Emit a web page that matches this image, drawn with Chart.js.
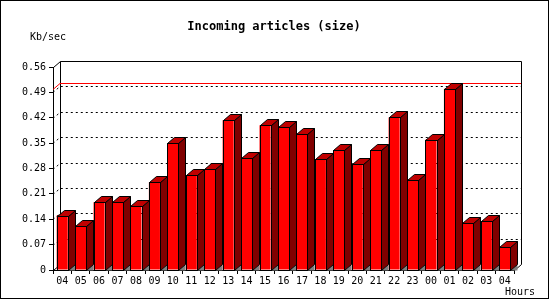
<!DOCTYPE html>
<html lang="en">
<head>
    <meta charset="UTF-8">
    <title>Incoming articles (size)</title>
    <script src="https://cdn.jsdelivr.net/npm/chart.js"></script>
    <style>
        body { margin: 0; background: #fff; }
        #chart { display: block; }
    </style>
</head>
<body>
    <canvas id="chart" width="550" height="300"></canvas>

    <script>
        // Hours along the x axis (last 24h, starting and ending at 04)
        const hours = ['04', '05', '06', '07', '08', '09', '10', '11', '12', '13', '14', '15', '16',
                       '17', '18', '19', '20', '21', '22', '23', '00', '01', '02', '03', '04'];
        // Incoming size per hour, Kb/sec
        const kbPerSec = [0.150, 0.121, 0.187, 0.187, 0.176, 0.242, 0.349, 0.261, 0.278, 0.413, 0.308, 0.399, 0.395,
                          0.374, 0.305, 0.330, 0.292, 0.330, 0.421, 0.247, 0.360, 0.500, 0.129, 0.134, 0.064];
        const yTicks = [0, 0.07, 0.14, 0.21, 0.28, 0.35, 0.42, 0.49, 0.56];

        // depth of the fake 3d box
        const dx = 7, dy = 6;
        const FONT = "'DejaVu Sans Mono', monospace";

        const box3d = {
            id: 'box3d',
            beforeDatasetsDraw(chart) {
                const { ctx, chartArea: a, scales: { y } } = chart;
                const L = a.left, R = a.right, T = a.top, B = a.bottom;
                ctx.save();
                ctx.lineWidth = 1;

                // dotted lines on the back wall
                ctx.strokeStyle = '#000';
                ctx.setLineDash([2, 3]);
                yTicks.slice(1, -1).forEach(v => {
                    const py = Math.round(y.getPixelForValue(v)) + 0.5;
                    ctx.beginPath();
                    ctx.moveTo(L, py);
                    ctx.lineTo(L + dx, py - dy);
                    ctx.lineTo(R + dx, py - dy);
                    ctx.stroke();
                });
                ctx.setLineDash([]);

                // back wall frame
                ctx.beginPath();
                ctx.moveTo(L + 0.5, T + 0.5);
                ctx.lineTo(L + dx + 0.5, T - dy + 0.5);
                ctx.lineTo(R + dx + 0.5, T - dy + 0.5);
                ctx.lineTo(R + dx + 0.5, B - dy + 0.5);
                ctx.lineTo(R + 0.5, B + 0.5);
                ctx.moveTo(L + dx + 0.5, T - dy + 0.5);
                ctx.lineTo(L + dx + 0.5, B - dy + 0.5);
                ctx.lineTo(L + 0.5, B + 0.5);
                ctx.stroke();

                // red line at the maximum
                const my = Math.round(y.getPixelForValue(Math.max(...kbPerSec))) + 0.5;
                ctx.strokeStyle = '#ff0000';
                ctx.beginPath();
                ctx.moveTo(L, my);
                ctx.lineTo(L + dx, my - dy);
                ctx.lineTo(R + dx, my - dy);
                ctx.stroke();
                ctx.restore();
            },
            afterDatasetsDraw(chart) {
                const { ctx, chartArea: a } = chart;
                const B = a.bottom;
                ctx.save();
                ctx.lineWidth = 1;
                ctx.strokeStyle = '#000';
                chart.getDatasetMeta(0).data.forEach(bar => {
                    const { x, y, width } = bar.getProps(['x', 'y', 'width'], true);
                    const l = Math.round(x - width / 2) + 0.5;
                    const r = Math.round(x + width / 2) + 0.5;
                    const t = Math.round(y) + 0.5;
                    const b = B + 0.5;

                    // floor shadow
                    ctx.fillStyle = '#808080';
                    ctx.beginPath();
                    ctx.moveTo(r, b);
                    ctx.lineTo(r + dx, b - dy);
                    ctx.lineTo(r + dx, b);
                    ctx.closePath();
                    ctx.fill();

                    // side
                    ctx.fillStyle = '#800000';
                    ctx.beginPath();
                    ctx.moveTo(r, t);
                    ctx.lineTo(r + dx, t - dy);
                    ctx.lineTo(r + dx, b - dy);
                    ctx.lineTo(r, b);
                    ctx.closePath();
                    ctx.fill();
                    ctx.stroke();

                    // top
                    ctx.fillStyle = '#c00000';
                    ctx.beginPath();
                    ctx.moveTo(l, t);
                    ctx.lineTo(l + dx, t - dy);
                    ctx.lineTo(r + dx, t - dy);
                    ctx.lineTo(r, t);
                    ctx.closePath();
                    ctx.fill();
                    ctx.stroke();

                    // front outline
                    ctx.strokeRect(l, t, r - l, b - t);
                });
                ctx.restore();
            },
            afterDraw(chart) {
                const { ctx } = chart;
                ctx.save();
                ctx.fillStyle = '#000';
                ctx.textBaseline = 'middle';
                ctx.font = 'bold 12px ' + FONT;
                ctx.textAlign = 'center';
                ctx.fillText('Incoming articles (size)', 274, 27);
                ctx.font = '10px ' + FONT;
                ctx.textAlign = 'left';
                ctx.fillText('Kb/sec', 30, 37);
                ctx.fillText('Hours', 505, 292);
                ctx.strokeStyle = '#000';
                ctx.lineWidth = 1;
                ctx.strokeRect(0.5, 0.5, 548, 298);
                ctx.restore();
            }
        };

        Chart.defaults.font.family = FONT;
        Chart.defaults.font.size = 10;
        Chart.defaults.color = '#000';

        const ctx = document.getElementById('chart').getContext('2d');
        const chart = new Chart(ctx, {
            type: 'bar',
            data: {
                labels: hours,
                datasets: [{
                    data: kbPerSec,
                    backgroundColor: '#ff0000',
                    borderWidth: 0,
                    barPercentage: 0.6,
                    categoryPercentage: 1.0
                }]
            },
            options: {
                responsive: false,
                animation: false,
                devicePixelRatio: 1,
                layout: { padding: { top: 67, right: 36, left: 0, bottom: 0 } },
                plugins: {
                    legend: { display: false },
                    tooltip: { enabled: false }
                },
                scales: {
                    x: {
                        grid: { drawOnChartArea: false, tickLength: 4, color: '#000', offset: true },
                        border: { color: '#000' },
                        ticks: { padding: 1, maxRotation: 0, autoSkip: false },
                        afterFit(s) { s.height = 30; }
                    },
                    y: {
                        min: 0,
                        max: 0.56,
                        afterBuildTicks(s) { s.ticks = yTicks.map(v => ({ value: v })); },
                        grid: { drawOnChartArea: false, tickLength: 4, color: '#000' },
                        border: { color: '#000' },
                        ticks: {
                            padding: 3,
                            callback: v => v === 0 ? '0' : v.toFixed(2)
                        },
                        afterFit(s) { s.width = 53; }
                    }
                }
            },
            plugins: [box3d]
        });
    </script>
</body>
</html>
